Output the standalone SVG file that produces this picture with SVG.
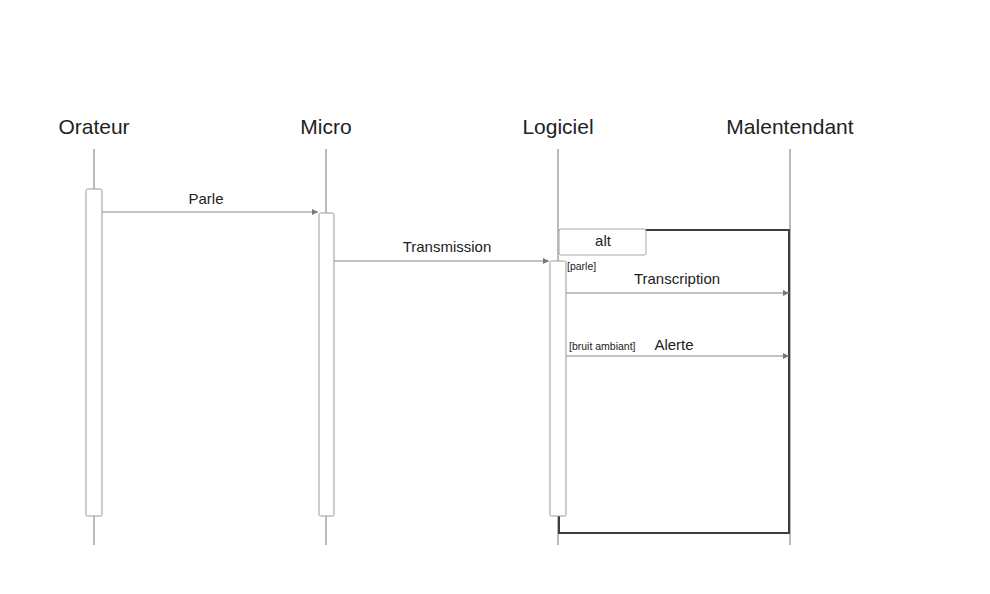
<svg xmlns="http://www.w3.org/2000/svg" width="990" height="594" viewBox="0 0 990 594">
<defs>
<style>
.t{font-family:"Liberation Sans",Arial,sans-serif;fill:#222}
.h{font-size:21px;text-anchor:middle}
.m{font-size:15px;text-anchor:middle}
.g{font-size:10.5px}
.ll{stroke:#777;stroke-width:1;fill:none}
.act{fill:#fff;stroke:#999;stroke-width:1}
.msg{stroke:#888;stroke-width:1.2;fill:none;marker-end:url(#ah)}
</style>
<marker id="ah" viewBox="0 0 10 10" refX="10" refY="5" markerWidth="8" markerHeight="6" markerUnits="userSpaceOnUse" orient="auto">
<path d="M0,0 L10,5 L0,10 z" fill="#777"/>
</marker>
</defs>
<rect width="990" height="594" fill="#fff"/>
<g id="orateur">
<text class="t h" x="94" y="134">Orateur</text>
<line class="ll" x1="94" y1="149" x2="94" y2="545"/>
<rect class="act" x="86" y="189" width="16" height="327" rx="1.5"/>
</g>
<g id="micro">
<text class="t h" x="326" y="134">Micro</text>
<line class="ll" x1="326" y1="149" x2="326" y2="545"/>
<rect class="act" x="319" y="213" width="15" height="303" rx="1.5"/>
</g>
<g id="logiciel">
<text class="t h" x="558" y="134">Logiciel</text>
<line class="ll" x1="558" y1="149" x2="558" y2="545"/>
</g>
<g id="malentendant">
<text class="t h" x="790" y="134">Malentendant</text>
<line class="ll" x1="790" y1="149" x2="790" y2="545"/>
</g>
<g id="alt-frame">
<path d="M559,230 H789 V533 H559 V516" fill="none" stroke="#3a3d45" stroke-width="2"/>
<rect x="559" y="229" width="87" height="26" rx="2" fill="#fff" stroke="#aaa" stroke-width="1"/>
<text class="t" x="603" y="246" font-size="15" text-anchor="middle">alt</text>
<text class="t g" x="567" y="270">[parle]</text>
<text class="t g" x="569" y="350">[bruit ambiant]</text>
</g>
<g id="logiciel-activation">
<rect class="act" x="550" y="261" width="16" height="255" rx="1.5"/>
</g>
<g id="connectors">
<line class="msg" x1="102" y1="212" x2="318" y2="212"/>
<text class="t m" x="206" y="204">Parle</text>
<line class="msg" x1="334" y1="261" x2="549" y2="261"/>
<text class="t m" x="447" y="252">Transmission</text>
<line class="msg" x1="566" y1="293" x2="789" y2="293"/>
<text class="t m" x="677" y="284">Transcription</text>
<line class="msg" x1="566" y1="356" x2="789" y2="356"/>
<text class="t m" x="674" y="350">Alerte</text>
</g>
</svg>
